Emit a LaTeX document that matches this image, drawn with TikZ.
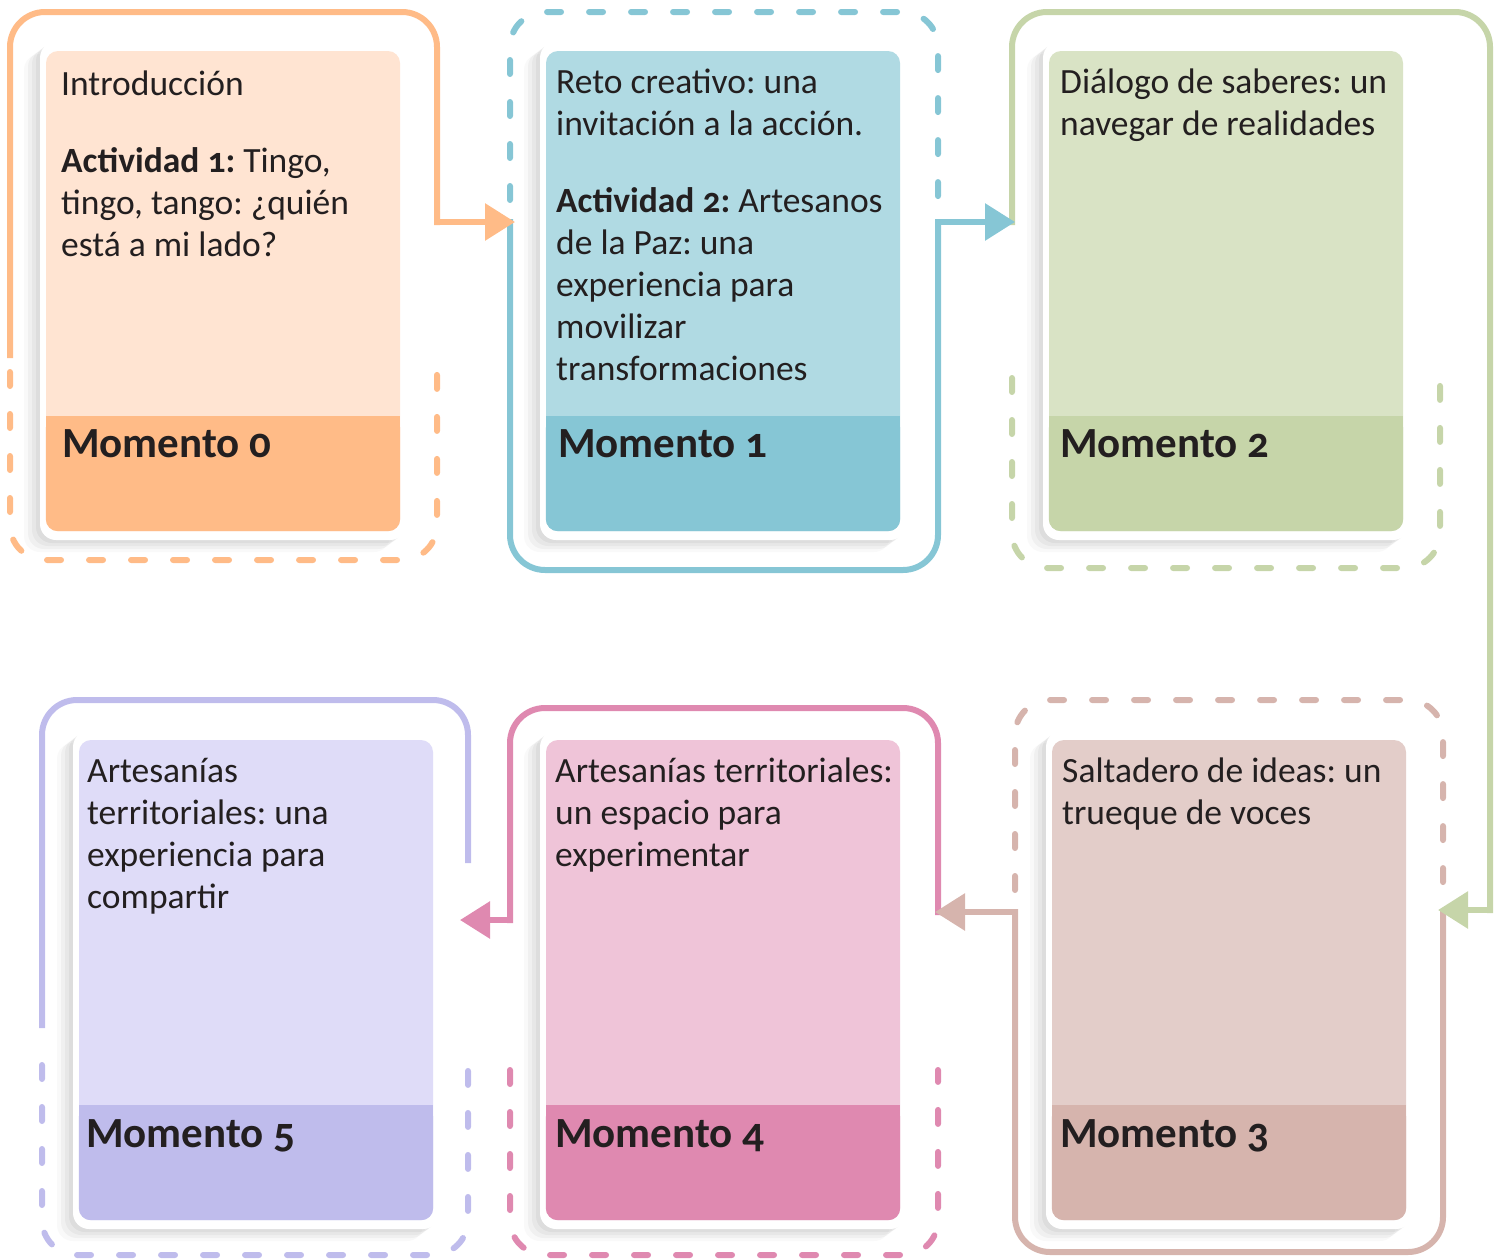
\documentclass[tikz,border=0pt]{standalone}
\usepackage{fontspec}
\setmainfont{Carlito}[Numbers=OldStyle]
\frenchspacing
\usetikzlibrary{shadows, positioning, arrows.meta}
\definecolor{ink}{HTML}{231F20}
\definecolor{naranja}{HTML}{FFBB87}
\definecolor{naranjaClaro}{HTML}{FFE4D2}
\definecolor{azul}{HTML}{86C6D5}
\definecolor{azulClaro}{HTML}{B0DAE3}
\definecolor{verde}{HTML}{C6D5A9}
\definecolor{verdeClaro}{HTML}{D9E3C5}
\definecolor{arena}{HTML}{D6B4AD}
\definecolor{arenaClaro}{HTML}{E3CDC9}
\definecolor{rosa}{HTML}{DF89B0}
\definecolor{rosaClaro}{HTML}{EFC4D8}
\definecolor{lila}{HTML}{BFBCEC}
\definecolor{lilaClaro}{HTML}{DFDCF8}
\tikzset{
    solid frame/.style = {line width=6pt, rounded corners=35pt, line cap=rect},
    dash frame/.style = {line width=6pt, rounded corners=35pt, line cap=round, dash pattern=on 14pt off 28pt},
    flow/.style = {line width=6pt, -{Triangle[length=30pt, width=36pt]}},
}
\tikzset{
    card/.style = {fill=white, rounded corners=16pt, minimum width=366pt, minimum height=498pt,
        drop shadow={shadow xshift=-16pt, shadow yshift=-12pt, opacity=.05},
        drop shadow={shadow xshift=-12pt, shadow yshift=-9pt, opacity=.07},
        drop shadow={shadow xshift=-8pt, shadow yshift=-6pt, opacity=.08},
        drop shadow={shadow xshift=-4pt, shadow yshift=-3pt, opacity=.1}},
    panel/.style = {rounded corners=12pt, minimum width=354pt, minimum height=480pt, inner sep=0pt},
    body/.style = {anchor=base west, inner sep=0pt, text=ink, font=\fontsize{35.5}{42}\selectfont},
    title/.style = {anchor=base west, inner sep=0pt, text=ink, font=\fontsize{43}{50}\selectfont\bfseries},
}
\newcommand{\banda}[2]{%
    \fill[#2, rounded corners=12pt] (#1.south west) rectangle ([yshift=115pt]#1.south east);
    \fill[#2] ([yshift=115pt]#1.south west) rectangle ([yshift=90pt]#1.south east);
}
\newcommand{\lineas}[1]{\begin{tabular}[t]{@{}l@{}}#1\end{tabular}}

\begin{document}
\begin{tikzpicture}[x=1pt, y=-1pt]
    \useasboundingbox (0,0) rectangle (1501,1258);

    \draw[solid frame, naranja] (10,355) -- (10,12) -- (437,12) -- (437,222);
    \draw[dash frame, naranja] (10,372) -- (10,560) -- (437,560) -- (437,372);

    \draw[dash frame, azul] (510,200) -- (510,12) -- (938,12) -- (938,200);
    \draw[solid frame, azul] (510,222) -- (510,570) -- (938,570) -- (938,222);

    \draw[solid frame, verde] (1012,222) -- (1012,12) -- (1490,12) -- (1490,910);
    \draw[dash frame, verde] (1012,378) -- (1012,568) -- (1440,568) -- (1440,378);

    \draw[dash frame, arena] (1015,890) -- (1015,700) -- (1443,700) -- (1443,890);
    \draw[solid frame, arena] (1443,912) -- (1443,1252) -- (1015,1252) -- (1015,912);

    \draw[solid frame, rosa] (938,912) -- (938,708) -- (510,708) -- (510,920);
    \draw[dash frame, rosa] (510,1070) -- (510,1255) -- (938,1255) -- (938,1070);

    \draw[solid frame, lila] (468,860) -- (468,700) -- (42,700) -- (42,1025);
    \draw[dash frame, lila] (42,1065) -- (42,1255) -- (468,1255) -- (468,1065);

    \coordinate (o0) at (437,222);
    \coordinate (i1) at (515,222);
    \coordinate (o1) at (938,222);
    \coordinate (i2) at (1015,222);
    \coordinate (o2) at (1490,910);
    \coordinate (i3) at (1438,910);
    \coordinate (o3) at (1015,912);
    \coordinate (i4) at (935,912);
    \coordinate (o4) at (510,920);
    \coordinate (i5) at (460,920);

    \draw[flow, naranja] (o0) -- (i1);
    \draw[flow, azul] (o1) -- (i2);
    \draw[flow, verde] (o2) -- (i3);
    \draw[flow, arena] (o3) -- (i4);
    \draw[flow, rosa] (o4) -- (i5);

    \node[card] (c0) at (223,291) {};
    \node[card] (c1) at (723,291) {};
    \node[card] (c2) at (1226,291) {};
    \node[card] (c3) at (1229,980) {};
    \node[card] (c4) at (723,980) {};
    \node[card] (c5) at (256,980) {};

    \node[panel, fill=naranjaClaro] (p0) at (c0) {};
    \node[panel, fill=azulClaro] (p1) at (c1) {};
    \node[panel, fill=verdeClaro] (p2) at (c2) {};
    \node[panel, fill=arenaClaro] (p3) at (c3) {};
    \node[panel, fill=rosaClaro] (p4) at (c4) {};
    \node[panel, fill=lilaClaro] (p5) at (c5) {};

    \banda{p0}{naranja}
    \banda{p1}{azul}
    \banda{p2}{verde}
    \banda{p3}{arena}
    \banda{p4}{rosa}
    \banda{p5}{lila}

    \node[body] (b0) at (61,95) {\lineas{Introducción\\[35pt]\textbf{Actividad 1:} Tingo,\\tingo, tango: ¿quién\\está a mi lado?}};
    \node[body] (b1) at (556,93) {\lineas{Reto creativo: una\\invitación a la acción.\\[35pt]\textbf{Actividad 2:} Artesanos\\de la Paz: una\\experiencia para\\movilizar\\transformaciones}};
    \node[body] (b2) at (1060,93) {\lineas{Diálogo de saberes: un\\navegar de realidades}};
    \node[body] (b3) at (1062,782) {\lineas{Saltadero de ideas: un\\trueque de voces}};
    \node[body] (b4) at (555,782) {\lineas{Artesanías territoriales:\\un espacio para\\experimentar}};
    \node[body] (b5) at (87,782) {\lineas{Artesanías\\territoriales: una\\experiencia para\\compartir}};

    \node[title] (m0) at (62,457) {Momento 0};
    \node[title] (m1) at (558,457) {Momento 1};
    \node[title] (m2) at (1060,457) {Momento 2};
    \node[title] (m3) at (1060,1147) {Momento 3};
    \node[title] (m4) at (555,1147) {Momento 4};
    \node[title] (m5) at (86,1147) {Momento 5};
\end{tikzpicture}
\end{document}
